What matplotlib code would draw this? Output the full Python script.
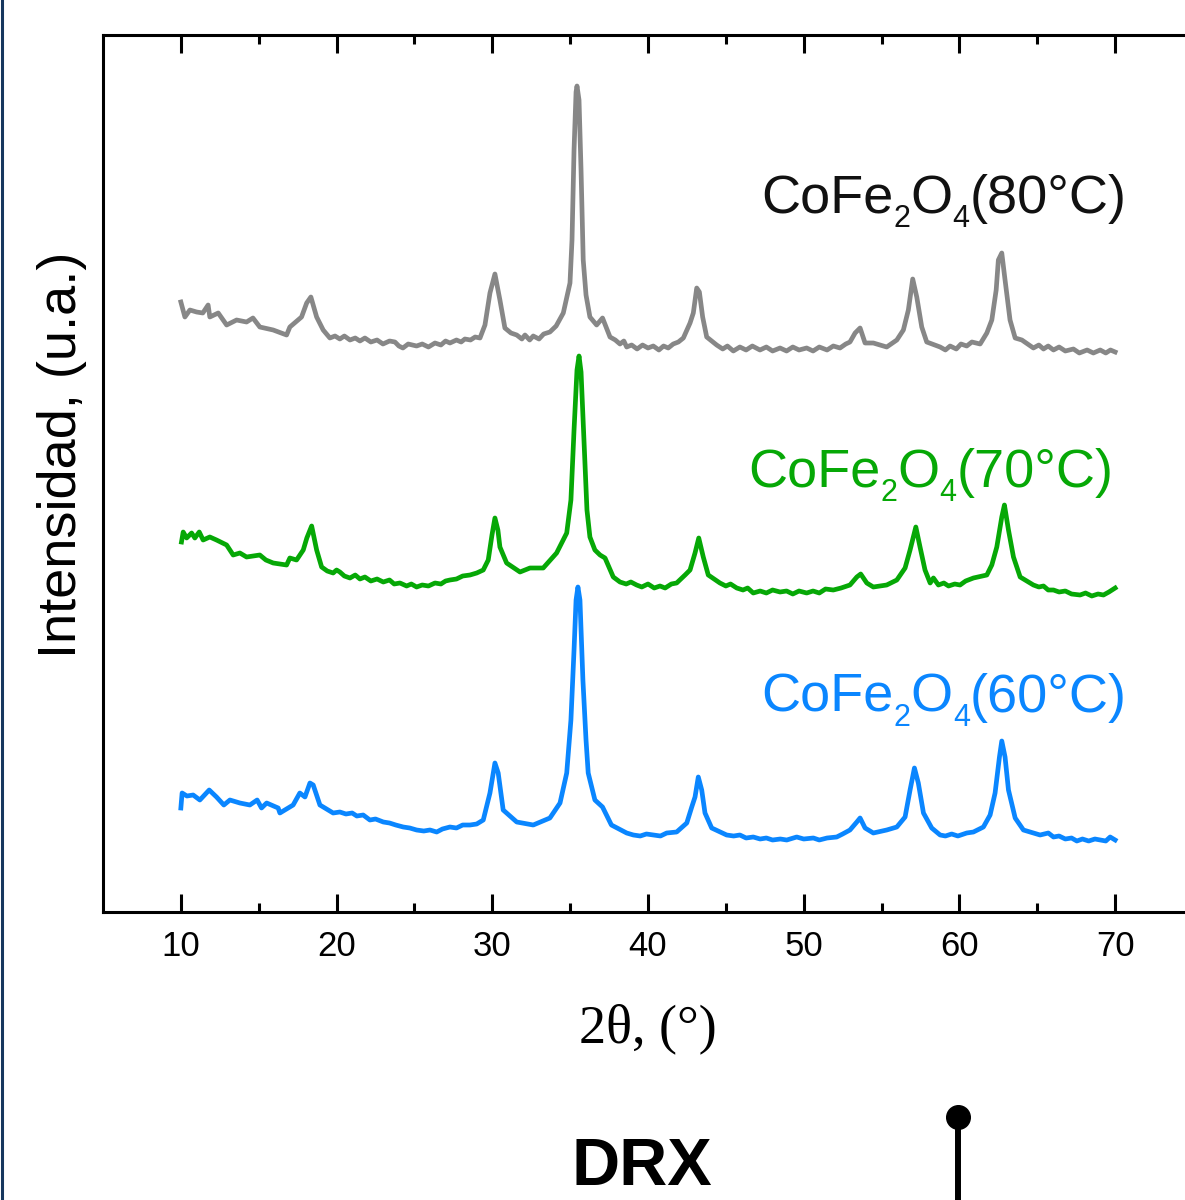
import matplotlib

matplotlib.use("Agg")
import matplotlib.pyplot as plt
from matplotlib.lines import Line2D

# 2theta (deg) and intensity (a.u., curves already offset)
TT_80 = [10.00, 10.26, 10.58, 11.01, 11.41, 11.75, 11.86, 12.40, 12.94, 13.58,
         14.22, 14.63, 15.07, 15.93, 16.79, 17.00, 17.75, 18.08, 18.35, 18.72,
         19.14, 19.57, 19.90, 20.21, 20.50, 20.86, 21.20, 21.50, 21.82, 22.20,
         22.60, 22.98, 23.40, 23.75, 24.00, 24.26, 24.60, 25.14, 25.50, 25.90,
         26.32, 26.70, 27.00, 27.28, 27.70, 28.00, 28.24, 28.60, 28.90, 29.21,
         29.53, 29.85, 30.17, 30.49, 30.81, 31.20, 31.57, 31.90, 32.10, 32.40,
         32.63, 33.00, 33.30, 33.70, 34.10, 34.56, 34.99, 35.12, 35.25, 35.38,
         35.44, 35.57, 35.70, 35.84, 36.02, 36.27, 36.70, 37.08, 37.56, 37.90,
         38.20, 38.45, 38.63, 38.95, 39.30, 39.65, 40.00, 40.34, 40.70, 41.00,
         41.30, 41.62, 41.95, 42.27, 42.70, 42.91, 43.13, 43.30, 43.51, 43.77,
         44.41, 44.80, 45.10, 45.48, 45.90, 46.30, 46.70, 47.19, 47.60, 48.00,
         48.48, 48.90, 49.30, 49.70, 50.19, 50.60, 51.00, 51.50, 51.90, 52.33,
         52.70, 52.97, 53.30, 53.62, 53.94, 54.47, 55.33, 55.98, 56.40, 56.72,
         57.00, 57.26, 57.58, 57.90, 58.76, 59.10, 59.40, 59.80, 60.10, 60.47,
         60.80, 61.33, 61.76, 62.08, 62.36, 62.50, 62.72, 62.93, 63.25, 63.58,
         64.01, 64.75, 65.10, 65.40, 65.70, 66.04, 66.40, 66.80, 67.32, 67.70,
         68.20, 68.60, 69.04, 69.40, 69.70, 70.00]
INT_80 = [610, 595, 602, 600, 599, 607, 595, 599, 587, 592,
          590, 594, 585, 582, 577, 585, 595, 609, 615, 595,
          582, 574, 576, 573, 576, 572, 574, 571, 574, 570,
          572, 568, 571, 570, 566, 564, 568, 566, 568, 565,
          569, 567, 571, 569, 572, 570, 573, 572, 575, 574,
          587, 619, 638, 612, 584, 579, 577, 573, 577, 572,
          576, 573, 578, 580, 586, 599, 629, 672, 762, 820,
          826, 812, 742, 652, 617, 595, 587, 594, 575, 572,
          568, 571, 565, 567, 563, 567, 564, 566, 562, 566,
          564, 568, 570, 574, 589, 599, 624, 620, 595, 575,
          567, 563, 566, 561, 565, 562, 566, 562, 565, 561,
          564, 561, 565, 562, 564, 561, 565, 562, 566, 564,
          568, 570, 579, 584, 569, 569, 565, 572, 582, 602,
          633, 615, 585, 570, 565, 562, 566, 563, 568, 566,
          570, 568, 579, 592, 622, 652, 659, 632, 592, 574,
          572, 564, 567, 563, 566, 562, 565, 561, 563, 559,
          562, 559, 562, 559, 562, 560]

TT_70 = [10.04, 10.15, 10.37, 10.69, 10.90, 11.18, 11.43, 11.86, 12.29, 12.94,
         13.36, 13.79, 14.22, 15.07, 15.46, 15.93, 16.79, 17.00, 17.43, 17.86,
         18.09, 18.40, 18.72, 19.04, 19.40, 19.78, 20.00, 20.21, 20.50, 20.86,
         21.20, 21.50, 21.82, 22.20, 22.60, 23.00, 23.40, 23.70, 24.07, 24.50,
         24.80, 25.14, 25.50, 25.90, 26.32, 26.70, 27.00, 27.28, 27.70, 28.10,
         28.57, 29.00, 29.42, 29.74, 29.98, 30.17, 30.36, 30.49, 30.92, 31.78,
         32.42, 33.27, 34.13, 34.78, 35.05, 35.25, 35.44, 35.57, 35.70, 35.89,
         36.08, 36.27, 36.59, 36.92, 37.24, 37.77, 38.20, 38.60, 38.90, 39.27,
         39.60, 40.00, 40.40, 40.77, 41.10, 41.50, 41.84, 42.38, 42.70, 43.02,
         43.26, 43.55, 43.87, 44.62, 45.00, 45.30, 45.70, 46.10, 46.40, 46.76,
         47.20, 47.60, 48.00, 48.48, 48.90, 49.30, 49.70, 50.19, 50.60, 51.00,
         51.40, 51.90, 52.40, 52.97, 53.41, 53.66, 54.05, 54.47, 55.33, 55.98,
         56.51, 56.83, 57.20, 57.47, 57.79, 58.12, 58.33, 58.65, 59.00, 59.30,
         59.70, 60.04, 60.40, 60.90, 61.76, 62.08, 62.40, 62.72, 62.89, 63.15,
         63.47, 63.90, 64.75, 65.10, 65.40, 65.70, 66.04, 66.40, 66.80, 67.20,
         67.75, 68.10, 68.50, 68.90, 69.25, 69.60, 70.00]
INT_70 = [370, 380, 374, 379, 374, 380, 372, 375, 372, 367,
          357, 359, 355, 357, 352, 349, 347, 354, 352, 362,
          374, 386, 362, 345, 341, 339, 342, 340, 336, 334,
          337, 333, 335, 331, 333, 330, 332, 328, 329, 326,
          328, 325, 327, 326, 329, 328, 331, 332, 333, 336,
          337, 339, 342, 352, 377, 394, 382, 365, 349, 340,
          344, 344, 359, 379, 412, 482, 542, 556, 540, 472,
          402, 375, 362, 357, 354, 335, 330, 328, 330, 327,
          325, 328, 324, 326, 324, 328, 329, 337, 342, 359,
          374, 355, 337, 329, 326, 328, 324, 322, 324, 319,
          321, 319, 322, 320, 321, 318, 321, 319, 321, 319,
          323, 322, 324, 327, 335, 338, 329, 325, 327, 332,
          344, 362, 385, 365, 342, 329, 334, 327, 329, 326,
          328, 327, 331, 334, 337, 347, 365, 395, 407, 382,
          355, 335, 327, 325, 326, 322, 322, 320, 321, 318,
          317, 319, 316, 318, 317, 320, 324]

TT_60 = [10.00, 10.08, 10.39, 10.79, 11.22, 11.82, 12.29, 12.76, 13.15, 13.79,
         14.43, 14.90, 15.18, 15.51, 16.25, 16.36, 17.21, 17.64, 17.97, 18.29,
         18.50, 18.93, 19.78, 20.21, 20.60, 21.00, 21.30, 21.71, 22.14, 22.50,
         23.00, 23.40, 23.80, 24.28, 24.70, 25.14, 25.60, 26.00, 26.43, 26.80,
         27.28, 27.70, 28.10, 28.57, 29.00, 29.42, 29.85, 30.17, 30.38, 30.70,
         31.57, 32.63, 33.70, 34.35, 34.78, 35.05, 35.25, 35.38, 35.50, 35.63,
         35.82, 36.02, 36.16, 36.59, 37.08, 37.65, 38.63, 39.06, 39.50, 39.90,
         40.34, 40.80, 41.20, 41.84, 42.49, 42.81, 43.02, 43.23, 43.45, 43.66,
         44.09, 45.05, 45.50, 45.90, 46.30, 46.76, 47.20, 47.60, 48.00, 48.50,
         48.91, 49.55, 50.00, 50.62, 51.00, 51.50, 52.12, 52.50, 52.97, 53.41,
         53.62, 53.94, 54.47, 55.33, 55.98, 56.51, 56.83, 57.11, 57.36, 57.69,
         58.22, 58.76, 59.10, 59.50, 59.90, 60.47, 60.90, 61.54, 61.97, 62.29,
         62.57, 62.72, 62.93, 63.15, 63.58, 64.11, 65.18, 65.71, 66.04, 66.40,
         66.80, 67.20, 67.54, 67.90, 68.30, 68.70, 69.04, 69.40, 69.68, 70.00]
INT_60 = [104, 119, 116, 117, 112, 122, 115, 107, 112, 109,
          107, 112, 104, 109, 104, 99, 107, 119, 115, 129,
          127, 107, 99, 100, 98, 99, 96, 97, 92, 93,
          90, 89, 87, 85, 84, 82, 81, 82, 80, 83,
          85, 84, 87, 87, 88, 92, 119, 149, 139, 102,
          90, 87, 94, 109, 139, 192, 262, 312, 325, 312,
          232, 172, 139, 112, 105, 87, 79, 77, 76, 78,
          77, 76, 79, 80, 89, 105, 115, 135, 122, 99,
          84, 77, 76, 77, 74, 75, 73, 74, 72, 73,
          72, 75, 73, 74, 72, 74, 75, 78, 82, 90,
          94, 84, 79, 82, 85, 95, 122, 144, 129, 99,
          84, 77, 76, 78, 76, 79, 80, 85, 97, 119,
          155, 171, 155, 122, 94, 82, 77, 79, 75, 76,
          73, 74, 71, 73, 71, 73, 72, 71, 75, 72]

# label pieces: (text, is_subscript)
LABEL_PARTS = [("CoFe", False), ("2", True), ("O", False), ("4", True)]
TEMPS = ["(80°C)", "(70°C)", "(60°C)"]
X_TICKS = [10, 20, 30, 40, 50, 60, 70]

GRAY = "#878787"
GREEN = "#06A806"
BLUE = "#0A86FF"


def setup_style() -> None:
    plt.rcParams.update(
        {
            "font.family": ["Liberation Sans", "DejaVu Sans"],
            "axes.linewidth": 2.2,
        }
    )


def formula_label(ax, x, y, temp, color) -> None:
    """CoFe2O4(T) with low, small subscripts, chained from left to right."""
    big, small, drop = 39, 22, 7.2
    prev = ax.text(x, y, LABEL_PARTS[0][0], color=color, fontsize=big,
                   ha="left", va="baseline")
    was_sub = False
    for text, sub in LABEL_PARTS[1:] + [(temp, False)]:
        dy = 0.0
        if sub and not was_sub:
            dy = -drop
        elif was_sub and not sub:
            dy = drop
        prev = ax.annotate(text, xy=(1, 0), xycoords=prev, xytext=(0, dy),
                           textcoords="offset points", color=color,
                           fontsize=small if sub else big, ha="left", va="bottom")
        was_sub = sub


def main() -> None:
    setup_style()
    fig = plt.figure(figsize=(11.85, 12.0), dpi=100)
    ax = fig.add_axes([103 / 1185, 288 / 1200, 1090 / 1185, 877 / 1200])

    ax.plot(TT_80, INT_80, color=GRAY, linewidth=3.4, solid_joinstyle="round")
    ax.plot(TT_70, INT_70, color=GREEN, linewidth=3.4, solid_joinstyle="round")
    ax.plot(TT_60, INT_60, color=BLUE, linewidth=3.4, solid_joinstyle="round")

    formula_label(ax, 47.25, 699, TEMPS[0], "#111111")
    formula_label(ax, 46.45, 425, TEMPS[1], GREEN)
    formula_label(ax, 47.3, 200, TEMPS[2], BLUE)

    ax.set_xlim(5, 75)
    ax.set_ylim(0, 877)
    ax.set_xticks(X_TICKS)
    ax.set_xticks(range(15, 75, 10), minor=True)
    ax.set_yticks([])
    ax.spines["right"].set_visible(False)
    ax.tick_params(axis="x", which="both", direction="in", top=True, bottom=True,
                   width=2.2, labelsize=25, pad=13)
    ax.tick_params(axis="x", which="major", length=13)
    ax.tick_params(axis="x", which="minor", length=6.5)

    ax.set_xlabel("2θ, (°)", family="Liberation Serif", fontsize=39, labelpad=29)
    ax.set_ylabel("Intensidad, (u.a.)", fontsize=39)
    ax.yaxis.set_label_coords(-0.0147, 0.521)

    fig.text(642 / 1185, 15 / 1200, "DRX", fontsize=48, fontweight="bold",
             ha="center", va="baseline")
    fig.add_artist(Line2D([958 / 1185, 958 / 1185], [0, 83 / 1200], color="black",
                          linewidth=4.3, transform=fig.transFigure))
    fig.add_artist(Line2D([958 / 1185], [83 / 1200], marker="o", markersize=17,
                          color="black", transform=fig.transFigure))
    fig.add_artist(Line2D([1.5 / 1185, 1.5 / 1185], [0, 1], color="#17375E",
                          linewidth=2.2, transform=fig.transFigure))

    fig.savefig("out.png", dpi=100)
    plt.close(fig)


if __name__ == "__main__":
    main()
